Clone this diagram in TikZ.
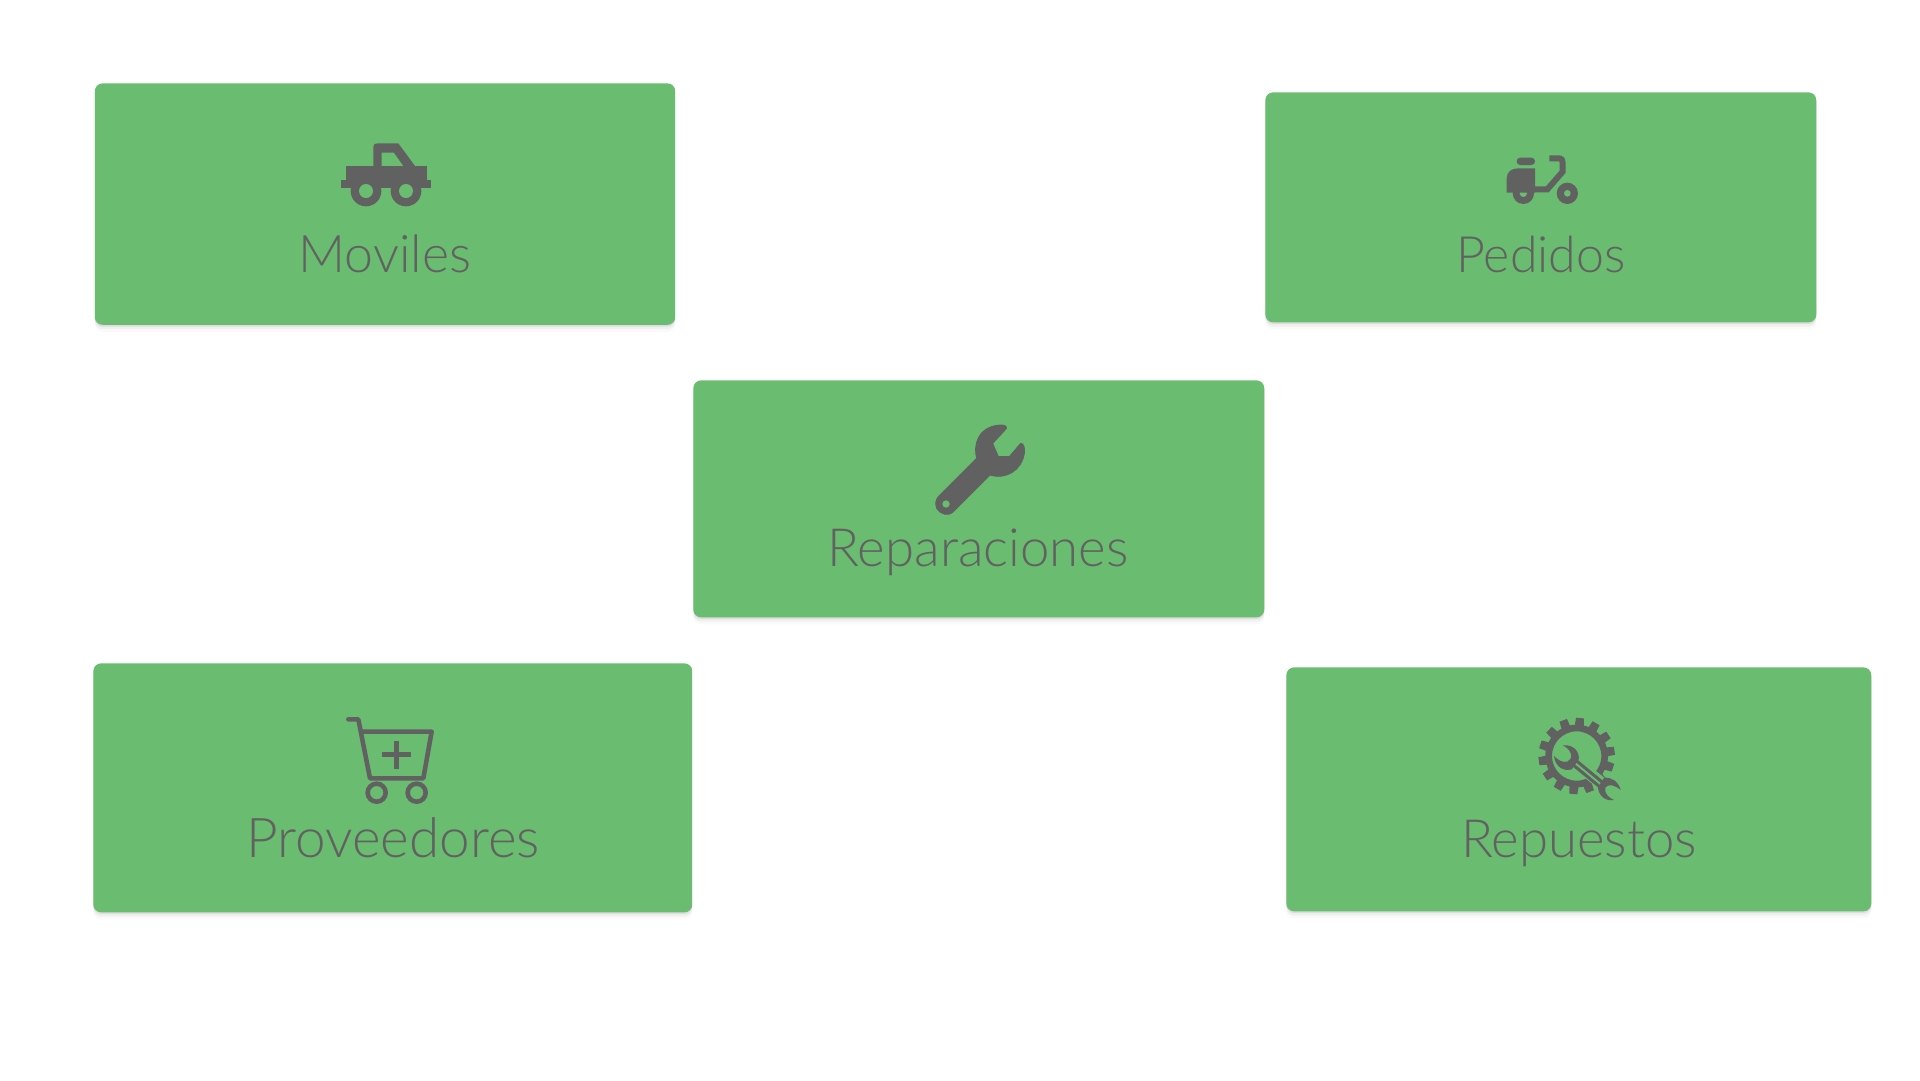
\documentclass[tikz,border=0pt]{standalone}
\usepackage{fontspec}
\setmainfont{Lato Light}
\usetikzlibrary{shadows}
\definecolor{cardgreen}{HTML}{6ABC70}
\definecolor{icongrey}{HTML}{616161}
\tikzset{
  card/.style={fill=cardgreen,rounded corners=4.4pt,inner sep=0pt,anchor=north west,
    general shadow={shadow yshift=-4pt,fill=black,opacity=.02},
    general shadow={shadow yshift=-2.5pt,fill=black,opacity=.04},
    general shadow={shadow yshift=-1pt,fill=black,opacity=.08}},
  cardtext/.style={text=icongrey,anchor=base,inner sep=0pt,font=\fontsize{#1}{30}\selectfont},
  iconcrop/.style={shift={#1},x=.00667cm,y=-.00667cm},
  iconline/.style={draw=icongrey,line cap=round,line join=round},
  iconsolid/.style={fill=icongrey,draw=icongrey,line width=.5pt,line join=round}
}
\begin{document}
\begin{tikzpicture}[x=.02cm,y=-.02cm]
\useasboundingbox (0,0) rectangle (1920,1080);
\fill[white] (0,0) rectangle (1920,1080);
% cards
\node[card,minimum width=11.61cm,minimum height=4.83cm] (moviles) at (94.5,83) {};
\node[card,minimum width=11.02cm,minimum height=4.60cm] (pedidos) at (1265,92) {};
\node[card,minimum width=11.42cm,minimum height=4.74cm] (reparaciones) at (693,380) {};
\node[card,minimum width=11.98cm,minimum height=4.98cm] (proveedores) at (93,663) {};
\node[card,minimum width=11.70cm,minimum height=4.88cm] (repuestos) at (1286,667) {};
% labels
\node[cardtext=29.5] (movilestxt) at (385,272) {Moviles};
\node[cardtext=28.5] (pedidostxt) at (1541,272) {Pedidos};
\node[cardtext=30] (reparacionestxt) at (978,566) {Reparaciones};
\node[cardtext=31.2] (proveedorestxt) at (393,857) {Proveedores};
\node[cardtext=30] (repuestostxt) at (1579,857) {Repuestos};
% truck
\begin{scope}[iconcrop={(320,130)}]
\fill[icongrey,even odd rule] (160,108) -- (160,50) .. controls (160,43) and (165,40) .. (172,40) -- (235,40) -- (285,108) -- cycle
  (185,108) -- (185,68) -- (222,68) -- (250,108) -- cycle;
\path[iconsolid] (78,165) -- (78,108) -- (318,108) -- (318,165) -- cycle;
\fill[icongrey] (63,150) rectangle (333,175);
\fill[icongrey] (138,183) circle (46) (258,183) circle (46);
\fill[cardgreen] (138,183) circle (21) (258,183) circle (21);
\end{scope}
% scooter
\begin{scope}[iconcrop={(1490,140)}]
\fill[icongrey] (100,160) circle (32) (232,160) circle (32);
\fill[cardgreen] (100,160) circle (11) (232,160) circle (10);
\fill[icongrey,rounded corners=2pt] (80,53) rectangle (135,75);
\fill[icongrey] (50,158) -- (50,115) .. controls (50,95) and (65,85) .. (85,85) -- (135,85) -- (135,158) -- cycle;
\draw[iconline,line width=3.4pt,line cap=butt,line join=miter] (178,55) -- (205,55) .. controls (215,55) and (218,60) .. (218,68) -- (218,95) -- (172,148) -- (130,148);
\end{scope}
% wrench
\begin{scope}[iconcrop={(920,415)}]
\path[iconsolid] (55,245) -- (170,130) .. controls (160,95) and (170,35) .. (240,30)
  .. controls (255,29) and (263,35) .. (258,42) -- (218,85) -- (235,125) -- (268,125) -- (302,85)
  .. controls (312,85) and (315,100) .. (313,115) .. controls (305,165) and (260,195) .. (210,180)
  -- (100,290) .. controls (85,305) and (60,298) .. (50,280) .. controls (45,265) and (47,255) .. (55,245) -- cycle;
\fill[cardgreen] (78,267) circle (11);
\end{scope}
% cart
\begin{scope}[iconcrop={(335,710)}]
\draw[iconline,line width=2.6pt] (40,28) -- (70,28) -- (105,205) -- (265,205) -- (290,65) -- (82,65);
\draw[iconline,line width=2.6pt,line cap=butt] (142,134) -- (228,134) (185,92) -- (185,176);
\draw[icongrey,line width=2.6pt] (125,248) circle (27) (245,248) circle (27);
\end{scope}
% gear
\begin{scope}[iconcrop={(1530,710)}]
\draw[icongrey,line width=3.8pt] (140,138) circle (84);
\begin{scope}[shift={(140,138)}]
\foreach \tooth in {0,...,13}{
  \pgfmathsetmacro{\ang}{-85+\tooth*360/14}
  \fill[icongrey] (\ang-9:88) -- (\ang-6:115) -- (\ang+6:115) -- (\ang+9:88) -- cycle;
}
\end{scope}
\draw[cardgreen,line width=7pt] (165,180) -- (245,245);
\draw[icongrey,line width=4.7pt] (130,155) -- (215,225);
\draw[cardgreen,line width=1.1pt] (130,155) -- (215,225);
\fill[icongrey] (98,106) .. controls (130,102) and (150,125) .. (146,150) -- (125,178) .. controls (100,185) and (75,170) .. (72,138)
  .. controls (85,150) and (95,158) .. (112,155) .. controls (130,148) and (128,120) .. (98,106) -- cycle;
\fill[icongrey] (272,240) .. controls (265,215) and (245,200) .. (222,204) -- (204,232) .. controls (205,255) and (225,275) .. (252,270)
  .. controls (235,262) and (222,250) .. (226,232) .. controls (238,220) and (255,226) .. (272,240) -- cycle;
\end{scope}
\end{tikzpicture}
\end{document}
